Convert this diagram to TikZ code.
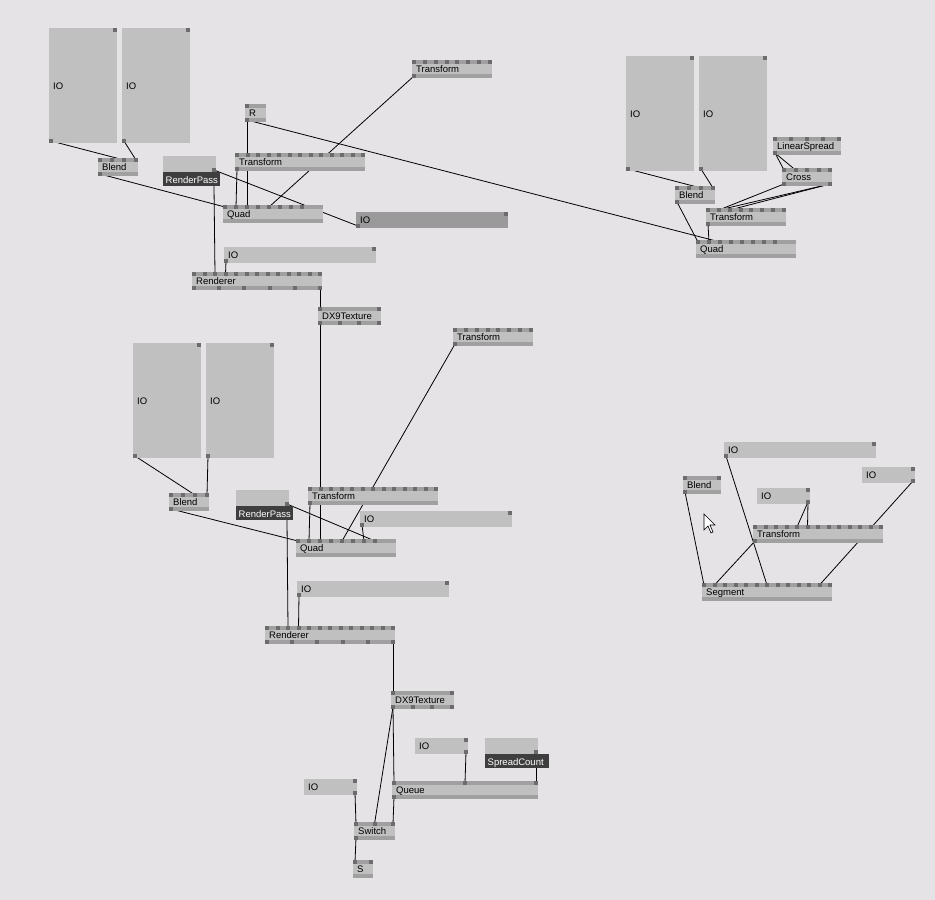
\documentclass[tikz,border=0pt]{standalone}
\usepackage{fontspec}
\setmainfont{Liberation Sans}

\definecolor{patchbg}{RGB}{230,227,230}
\definecolor{bodygray}{RGB}{192,192,192}
\definecolor{bandgray}{RGB}{160,160,160}
\definecolor{pingray}{RGB}{108,108,108}
\definecolor{iodark}{RGB}{154,154,154}
\definecolor{tagdark}{RGB}{62,62,62}

\pgfdeclarelayer{back}
\pgfdeclarelayer{wires}
\pgfsetlayers{back,wires,main}

\tikzset{
  wire/.style={draw=black, line width=0.8pt},
  lbl/.style={inner sep=0pt, font=\fontsize{9.5}{10}\selectfont},
  taglbl/.style={lbl, text=white},
}

% node: name, x, y, width, label, inputs, input span, outputs
\newcommand\vnode[8]{%
  \fill[bandgray] (#2,#3) rectangle ++(#4,18);
  \fill[bodygray] (#2,#3+4) rectangle ++(#4,10);
  \node[lbl, anchor=base west] (#1) at (#2+4,#3+12.5) {#5};
  \ifnum#6>0
    \foreach \k in {1,...,#6}{
      \pgfmathsetmacro\vpx{#2+(\k-1)*(#7-4)/max(#6-1,1)}
      \fill[pingray] (\vpx,#3) rectangle ++(4,4);
      \coordinate (#1-i\k) at (\vpx+2,#3+2);
    }
  \fi
  \ifnum#8>0
    \foreach \k in {1,...,#8}{
      \pgfmathsetmacro\vpx{#2+(\k-1)*(#4-4)/max(#8-1,1)}
      \fill[pingray] (\vpx,#3+14) rectangle ++(4,4);
      \coordinate (#1-o\k) at (\vpx+2,#3+16);
    }
  \fi
}

% IO box: name, x, y, width, height, fill, output side (l/r)
\newcommand\iobox[7]{%
  \fill[#6] (#2,#3) rectangle ++(#4,#5);
  \fill[pingray] (#2+#4-4,#3) rectangle ++(4,4);
  \coordinate (#1-a) at (#2+#4-2,#3+2);
  \if#7l
    \fill[pingray] (#2,#3+#5-4) rectangle ++(4,4);
    \coordinate (#1-b) at (#2+2,#3+#5-2);
  \else
    \fill[pingray] (#2+#4-4,#3+#5-4) rectangle ++(4,4);
    \coordinate (#1-b) at (#2+#4-2,#3+#5-2);
  \fi
  \node[lbl, anchor=base west] (#1) at (#2+4,#3+#5/2+3.5) {IO};
}

% named IO: name, x, y, width, tag width, tag
\newcommand\tagbox[6]{%
  \fill[bodygray] (#2,#3) rectangle ++(#4,16);
  \fill[pingray] (#2+#4-4,#3+12) rectangle ++(4,4);
  \coordinate (#1-a) at (#2+#4-2,#3+14);
  \fill[tagdark] (#2,#3+16) rectangle ++(#5,14);
  \node[taglbl, anchor=base west] (#1) at (#2+2.5,#3+27) {#6};
  \coordinate (#1-b) at (#2+#4-2,#3+30);
}

\begin{document}
\begin{tikzpicture}[x=1pt,y=-1pt]
  \begin{pgfonlayer}{back}
    \fill[patchbg] (0,0) rectangle (935,900);
  \end{pgfonlayer}
  \useasboundingbox (0,0) rectangle (935,900);

  % top left
  \iobox{ioA}{49}{28}{68}{115}{bodygray}{l}
  \iobox{ioB}{122}{28}{68}{115}{bodygray}{l}
  \vnode{blendA}{98}{158}{40}{Blend}{4}{40}{1}
  \tagbox{passA}{163}{156}{53}{57}{RenderPass}
  \vnode{rA}{245}{104}{21}{R}{1}{21}{1}
  \vnode{transA}{412}{60}{80}{Transform}{8}{80}{1}
  \vnode{transB}{235}{153}{130}{Transform}{13}{130}{1}
  \vnode{quadA}{223}{205}{100}{Quad}{8}{81}{0}
  \iobox{ioC}{356}{212}{152}{16}{iodark}{l}
  \iobox{ioD}{224}{247}{152}{16}{bodygray}{l}
  \vnode{rendA}{192}{272}{130}{Renderer}{13}{130}{6}
  \vnode{texA}{318}{307}{63}{DX9Texture}{2}{63}{4}

  % top right
  \iobox{ioE}{626}{56}{68}{115}{bodygray}{l}
  \iobox{ioF}{699}{56}{68}{115}{bodygray}{l}
  \vnode{blendB}{675}{186}{40}{Blend}{4}{40}{1}
  \vnode{spreadA}{773}{137}{68}{LinearSpread}{5}{68}{1}
  \vnode{crossA}{782}{168}{50}{Cross}{5}{50}{2}
  \vnode{transC}{706}{208}{80}{Transform}{8}{80}{1}
  \vnode{quadB}{696}{240}{100}{Quad}{8}{81}{0}

  % middle
  \iobox{ioG}{133}{343}{68}{115}{bodygray}{l}
  \iobox{ioH}{206}{343}{68}{115}{bodygray}{l}
  \vnode{blendC}{169}{493}{40}{Blend}{4}{40}{1}
  \tagbox{passB}{236}{490}{53}{57}{RenderPass}
  \vnode{transD}{453}{328}{80}{Transform}{8}{80}{1}
  \vnode{transE}{308}{487}{130}{Transform}{13}{130}{1}
  \iobox{ioI}{360}{511}{152}{16}{bodygray}{l}
  \vnode{quadC}{296}{539}{100}{Quad}{8}{81}{0}
  \iobox{ioJ}{297}{581}{152}{16}{bodygray}{l}
  \vnode{rendB}{265}{626}{130}{Renderer}{13}{130}{6}

  % bottom
  \vnode{texB}{391}{691}{63}{DX9Texture}{2}{63}{4}
  \iobox{ioK}{415}{738}{53}{16}{bodygray}{r}
  \tagbox{countA}{485}{738}{53}{64}{SpreadCount}
  \vnode{queueA}{392}{781}{146}{Queue}{3}{146}{1}
  \iobox{ioL}{304}{779}{53}{16}{bodygray}{r}
  \vnode{switchA}{354}{822}{41}{Switch}{3}{41}{1}
  \vnode{sA}{353}{860}{20}{S}{2}{20}{0}

  % right
  \iobox{ioM}{724}{442}{152}{16}{bodygray}{l}
  \vnode{blendD}{683}{476}{38}{Blend}{2}{38}{1}
  \iobox{ioN}{757}{488}{53}{16}{bodygray}{r}
  \iobox{ioO}{862}{467}{53}{16}{bodygray}{r}
  \vnode{transF}{753}{525}{130}{Transform}{13}{130}{1}
  \vnode{segA}{702}{583}{130}{Segment}{13}{130}{0}

  % mouse pointer
  \filldraw[fill=white, draw=black, line width=0.6pt, line join=miter]
    (704,514) -- ++(0,16) -- ++(4,-4) -- ++(3,7) -- ++(2,-1)
    -- ++(-3,-7) -- ++(5,0) -- cycle;

  \begin{pgfonlayer}{wires}
    % top left
    \draw[wire] (ioA-b) -- (blendA-i3);
    \draw[wire] (ioB-b) -- (blendA-i4);
    \draw[wire] (blendA-o1) -- (quadA-i1);
    \draw[wire] (transB-o1) -- (quadA-i2);
    \draw[wire] (rA-o1) -- (quadA-i3);
    \draw[wire] (transA-o1) -- (quadA-i5);
    \draw[wire] (passA-a) -- (ioC-b);
    \draw[wire] (passA-b) -- (rendA-i3);
    \draw[wire] (ioD-b) -- (rendA-i4);
    \draw[wire] (rendA-o6) -- (texA-i1);
    % top right
    \draw[wire] (rA-o1) -- (quadB-i3);
    \draw[wire] (ioE-b) -- (blendB-i3);
    \draw[wire] (ioF-b) -- (blendB-i4);
    \draw[wire] (blendB-o1) -- (quadB-i1);
    \draw[wire] (spreadA-o1) -- (crossA-i1);
    \draw[wire] (spreadA-o1) -- (crossA-i2);
    \draw[wire] (crossA-o1) -- (transC-i2);
    \draw[wire] (crossA-o2) -- (transC-i2);
    \draw[wire] (crossA-o2) -- (transC-i3);
    \draw[wire] (transC-o1) -- (quadB-i2);
    % middle
    \draw[wire] (ioG-b) -- (blendC-i3);
    \draw[wire] (ioH-b) -- (blendC-i4);
    \draw[wire] (blendC-o1) -- (quadC-i1);
    \draw[wire] (transE-o1) -- (quadC-i2);
    \draw[wire] (texA-o1) -- (quadC-i3);
    \draw[wire] (transD-o1) -- (quadC-i5);
    \draw[wire] (ioI-b) -- (quadC-i7);
    \draw[wire] (passB-a) -- (quadC-i8);
    \draw[wire] (passB-b) -- (rendB-i3);
    \draw[wire] (ioJ-b) -- (rendB-i4);
    \draw[wire] (rendB-o6) -- (texB-i1);
    % bottom
    \draw[wire] (texB-o1) -- (queueA-i1);
    \draw[wire] (texB-o1) -- (switchA-i2);
    \draw[wire] (queueA-o1) -- (switchA-i3);
    \draw[wire] (ioK-b) -- (queueA-i2);
    \draw[wire] (countA-b) -- (queueA-i3);
    \draw[wire] (ioL-b) -- (switchA-i1);
    \draw[wire] (switchA-o1) -- (sA-i1);
    % right
    \draw[wire] (blendD-o1) -- (segA-i1);
    \draw[wire] (ioM-b) -- (segA-i7);
    \draw[wire] (ioN-b) -- (transF-i5);
    \draw[wire] (ioN-b) -- (transF-i6);
    \draw[wire] (ioO-b) -- (segA-i12);
    \draw[wire] (transF-o1) -- (segA-i2);
  \end{pgfonlayer}
\end{tikzpicture}
\end{document}
